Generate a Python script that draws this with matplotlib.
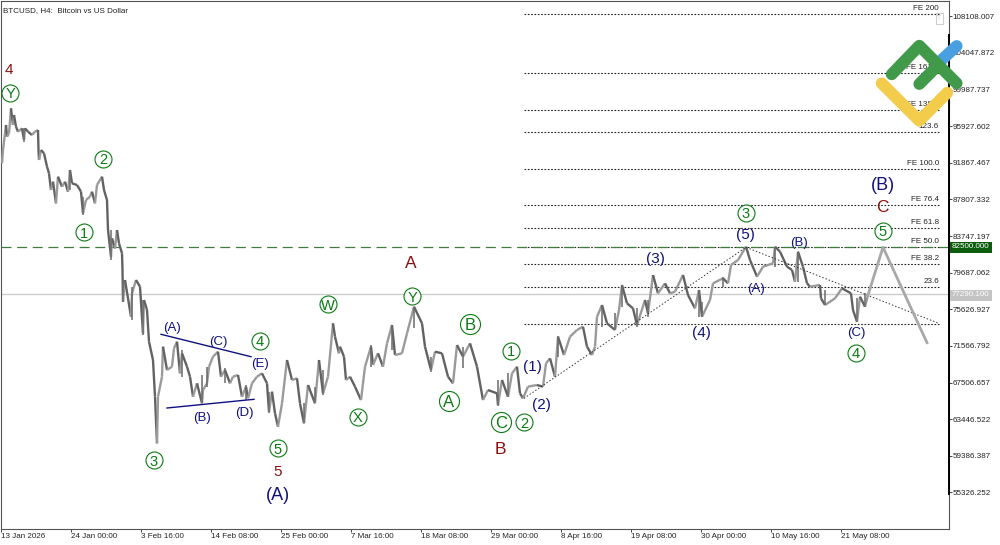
# -*- coding: utf-8 -*-
"""BTCUSD H4 chart with Elliott wave labels, FE levels and forecast path."""
import matplotlib
matplotlib.use("Agg")
import numpy as np
import matplotlib.pyplot as plt
from matplotlib.collections import LineCollection

plt.rcParams["font.family"] = ["Liberation Sans", "DejaVu Sans"]

# ---- data ----
bar_col = [1, 2, 4, 5, 6, 8, 10, 12, 13, 15, 17, 21, 23, 24, 27, 31, 34, 37, 37.5, 38,
           40, 43, 46, 48, 50, 52, 55, 57, 61, 64, 67, 69, 71, 76, 80, 82, 85, 89, 91, 94,
           96, 101, 103, 106, 107, 110, 111, 114, 116, 118, 121, 121.5, 122, 124, 130, 131, 135, 139, 142, 143,
           146, 148, 152, 154, 156, 157, 161, 162, 166, 171, 173, 176, 179, 181, 186, 189, 192, 196, 201, 202,
           206, 208, 212, 217, 220, 224, 229, 232, 237, 241, 245, 247, 251, 256, 261, 266, 268, 271, 274, 277,
           281, 286, 291, 296, 299, 303, 307, 314, 318, 322, 327, 332, 334, 338, 339, 343, 345, 349, 354, 360,
           364, 370, 372, 377, 382, 386, 391, 394, 401, 406, 413, 421, 424, 430, 434, 441, 447, 452, 456, 462,
           469, 476, 482, 487, 496, 497, 501, 507, 511, 516, 519, 522, 527, 536, 542, 545, 549, 554, 557, 563,
           569, 576, 582, 586, 591, 594, 596, 601, 606, 614, 618, 621, 626, 632, 636, 644, 647, 652, 657, 664,
           669, 674, 682, 687, 694, 698, 701, 709, 712, 722, 727, 730, 737, 745, 749, 756, 762, 772, 774, 779,
           786, 791, 794, 797, 802, 806, 809, 819, 820, 824, 834, 841, 850, 852, 856, 859, 864, 867]
price = [91807, 93286, 95133, 96057, 94764, 95133, 97904, 96057, 97165, 95872, 95318, 95687, 94394, 95687, 95318, 94948, 95318, 95503, 93286, 92177,
         93286, 92917, 91438, 90699, 88852, 89775, 87374, 90330, 89221, 89775, 88667, 91069, 89591, 89406, 88667, 86265, 87743, 88113, 88667, 87374,
         89406, 90330, 88852, 87743, 84417, 81462, 83494, 82385, 84417, 82939, 81831, 79983, 76473, 78875, 74810, 77397, 78875, 78136, 72963, 76658,
         75549, 72039, 70007, 65942, 60769, 65942, 68159, 71485, 68898, 69268, 71300, 72039, 68529, 70746, 69268, 68159, 65942, 67420, 65203, 66681,
         67420, 69268, 70376, 70931, 68159, 68898, 67420, 68159, 68344, 65942, 67050, 65757, 67420, 68159, 68529, 67420, 64279, 66496, 64094, 62617,
         65203, 70007, 67790, 67974, 65203, 62986, 67235, 65203, 70007, 66311, 68159, 74071, 72593, 70746, 71485, 70376, 67790, 68159, 67050, 65572,
         69268, 71485, 69452, 70746, 69268, 71854, 73886, 70561, 70746, 72963, 75918, 74071, 71485, 68898, 70930, 70746, 68159, 67420, 71669, 70376,
         71854, 69268, 65572, 66681, 66311, 65018, 67790, 65942, 68529, 69268, 66311, 65757, 67050, 67235, 67050, 69637, 70191, 68159, 72593, 70561,
         72593, 73332, 73702, 71485, 70561, 71485, 74810, 76104, 74071, 73332, 75549, 78320, 76288, 75734, 73886, 76658, 75179, 79429, 77397, 78505,
         77397, 77581, 79429, 77212, 75734, 77766, 74810, 76658, 78505, 79060, 78505, 80537, 81091, 82569, 81091, 79244, 80352, 80722, 82569, 82015,
         80352, 79983, 78690, 82015, 80352, 78505, 78136, 78320, 76842, 76103, 76842, 77950, 77397, 75549, 74256, 77027, 75919, 77212]

# high-low ranges of the bars that stand out from the path
wick_col = [23, 69, 82, 110, 122, 131, 142, 181, 201, 206, 224, 245, 268, 303, 314, 322,
            370, 391, 413, 430, 462, 497, 507, 557, 601, 614, 621, 636, 647,
            698, 701, 722, 774, 797, 824, 856, 864]
wick_high = [95687, 91069, 88113, 84417, 78875, 78136, 76658, 71115, 68344, 69268, 69083, 67235, 66496, 65203, 67050, 68898,
             71669, 73886, 75918, 70376, 71485, 67790, 68529, 72667, 76104, 75179, 78320, 75734, 76658,
             77766, 76400, 79244, 82569, 82015, 77766, 76842, 77397]
wick_low = [94200, 88850, 86080, 81100, 76473, 74440, 72780, 68159, 65203, 67050, 67420, 65572, 64094, 62986, 65203, 66126,
            69268, 71115, 73517, 68713, 69083, 64907, 65942, 70376, 73702, 73332, 75918, 73702, 74810,
            74810, 74810, 78136, 80352, 78690, 76103, 74256, 75919]

fe_labels = ["FE 200", "FE 161.8", "FE 138.2", "123.6", "FE 100.0", "FE 76.4",
             "FE 61.8", "FE 50.0", "FE 38.2", "23.6", ""]
fe_prices = [108306, 101788, 97720, 95248, 91180, 87189, 84606, 82533, 80615, 78066, 74030]
fe_start_col = 523
fe_end_col = 939

price_ticks = [108108.007, 104047.872, 99987.737, 95927.602, 91867.467, 87807.332, 83747.197,
               79687.062, 75626.927, 71566.792, 67506.657, 63446.522, 59386.387, 55326.252]
date_ticks = [0, 70, 140, 210, 280, 350, 420, 490, 560, 630, 700, 770, 840]
date_labels = ["13 Jan 2026", "24 Jan 00:00", "3 Feb 16:00", "14 Feb 08:00", "25 Feb 00:00",
               "7 Mar 16:00", "18 Mar 08:00", "29 Mar 00:00", "8 Apr 16:00", "19 Apr 08:00",
               "30 Apr 00:00", "10 May 16:00", "21 May 08:00"]

target_price = 82500.0
last_price = 77290.1

tri_top_col, tri_top_price = [160, 250], [72856, 70373]
tri_bot_col, tri_bot_price = [166, 253], [64686, 65650]
channel_col, channel_price = [523, 745, 937], [65760, 82500, 74109]
forecast_col, forecast_price = [867, 882, 926], [77212, 82500, 71925]

# ---- colours ----
GREEN = "#0b7a12"
NAVY = "#101080"
RED = "#8b1010"

fig = plt.figure(figsize=(10.0, 5.45), dpi=100)
ax = fig.add_axes([1.0 / 1000, 16.0 / 545, 947.5 / 1000, 528.0 / 545])
ax.set_xlim(0, 947.5)
ax.set_ylim(51274, 109802)

# price path, falling legs darker than rising ones
pts = np.column_stack([bar_col, price])
segs = np.stack([pts[:-1], pts[1:]], axis=1)
cols = ["#9a9a9a" if b > a else "#626262" for a, b in zip(price[:-1], price[1:])]
ax.add_collection(LineCollection(segs, colors=cols, linewidths=1.7, zorder=3))
ax.vlines(wick_col, wick_low, wick_high, colors="#6a6a6a", linewidths=1.1, zorder=3)

# levels
for lab, p in zip(fe_labels, fe_prices):
    ax.plot([fe_start_col, fe_end_col], [p, p], color="#222222", lw=0.8,
            ls=(0, (1.5, 1.5)), zorder=2)
    if lab:
        ax.text(fe_end_col - 1, p + 230, lab, ha="right", va="bottom", fontsize=5.8,
                color="#222222", zorder=2)
ax.axhline(target_price, color="#3d7d3d", lw=0.9, ls=(0, (8, 4.5)), zorder=2)
ax.axhline(last_price, color="#cccccc", lw=1.0, zorder=1)

# trend lines
ax.plot(tri_top_col, tri_top_price, color=NAVY, lw=1.0, zorder=4)
ax.plot(tri_bot_col, tri_bot_price, color=NAVY, lw=1.0, zorder=4)
ax.plot(channel_col, channel_price, color="#333333", lw=0.7, ls=(0, (1.5, 2)), zorder=4)
ax.plot(forecast_col, forecast_price, color="#a8a8a8", lw=2.0, zorder=4)

# axes furniture
ax.yaxis.tick_right()
ax.set_yticks(price_ticks)
ax.set_yticklabels([f"{t:.3f}" for t in price_ticks], fontsize=5.8, color="#222222")
ax.set_xticks(date_ticks)
ax.set_xticklabels(date_labels, fontsize=5.8, color="#222222", ha="left")
ax.tick_params(axis="both", length=2, width=0.7, color="#444444", pad=1.0)
for s in ax.spines.values():
    s.set_color("#555555")
    s.set_linewidth(0.8)
ax.text(2, 108750, "BTCUSD, H4:  Bitcoin vs US Dollar", fontsize=5.8, color="#222222",
        ha="left", va="center")

# ---- overlay in picture pixels for annotation labels, tags and logo ----
ov = fig.add_axes([0, 0, 1, 1], facecolor="none")
ov.set_xlim(0, 1000)
ov.set_ylim(545, 0)
ov.axis("off")

ov.plot([948.5, 948.5], [35, 494], color="black", lw=1.4)   # thick part of price scale

# price tags
for y, fc, txt in [(247, "#0b5c0b", "82500.000"), (295, "#c4c4c4", "77290.100")]:
    ov.fill_between([949, 992], y - 5.5, y + 5.5, color=fc, lw=0)
    ov.text(952, y, txt, fontsize=5.8, color="white", va="center", ha="left")

# small one-click box, top right
ov.plot([936, 943, 943, 936, 936], [13, 13, 24, 24, 13], color="#cfcfcf", lw=0.8)
ov.text(939.5, 18.5, "T", fontsize=5, color="#cfcfcf", ha="center", va="center")


def wave(x, y, txt, color, fs):
    ov.text(x, y, txt, color=color, fontsize=fs, ha="center", va="center")


def circled(x, y, txt, big=False):
    d = 20 if big else 17
    s = (d * 0.72) ** 2
    ov.scatter([x], [y], s=s, facecolor="white", edgecolor=GREEN, linewidth=0.8, zorder=5)
    ov.text(x, y, txt, color=GREEN, fontsize=12 if big else 10.5, ha="center",
            va="center_baseline", zorder=6)


for x, y, t in [(9, 70, "4"), (278, 472, "5")]:
    wave(x, y, t, RED, 11)
for x, y, t in [(411, 264, "A"), (500, 449, "B"), (882, 208, "C")]:
    wave(x, y, t, RED, 12.5)
for x, y, t in [(278, 495, "(A)"), (883, 185, "(B)")]:
    wave(x, y, t, NAVY, 13)
for x, y, t in [(532, 367, "(1)"), (541, 405, "(2)"), (655, 259, "(3)"),
                (701, 333, "(4)"), (745, 235, "(5)")]:
    wave(x, y, t, NAVY, 11)
for x, y, t in [(172, 328, "(A)"), (218, 342, "(C)"), (260, 364, "(E)"), (202, 418, "(B)"),
                (244, 413, "(D)"), (756, 289, "(A)"), (799, 243, "(B)"), (856, 333, "(C)")]:
    wave(x, y, t, NAVY, 9.5)

for x, y, t in [(10, 93, "Y"), (103, 159, "2"), (84, 232, "1"), (154, 460, "3"), (260, 341, "4"),
                (278, 448, "5"), (328, 304, "W"), (358, 417, "X"), (412, 296, "Y"), (524, 422, "2"),
                (511, 351, "1"), (746, 213, "3"), (883, 231, "5"), (856, 353, "4")]:
    circled(x, y, t)
for x, y, t in [(449, 401, "A"), (470, 324, "B"), (501, 422, "C")]:
    circled(x, y, t, big=True)

# logo
LOGO = dict(lw=8.5, solid_capstyle="round", solid_joinstyle="round", zorder=8)
ov.plot([938, 956.7], [63.3, 46], color="#4a9fe0", **LOGO)
ov.plot([881.7, 919.3, 947.3], [83.3, 120.7, 92.7], color="#f3cc4c", **LOGO)
ov.plot([891.7, 919.3, 956.7], [74.3, 45.7, 83.3], color="#41994a", **LOGO)
ov.plot([919.3, 938.3], [84, 65], color="#41994a", **LOGO)

fig.savefig("out.png", dpi=100, facecolor="white")
